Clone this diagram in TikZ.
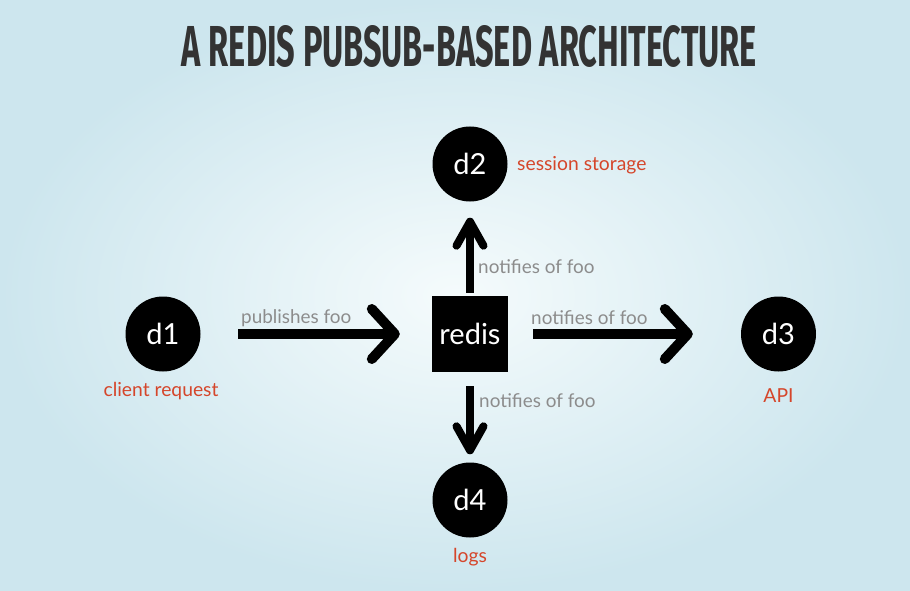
\documentclass[tikz,border=0pt]{standalone}
\usepackage{fontspec}
\usepackage{graphicx}
\setmainfont{Lato}
\newfontfamily\titlefont{Fira Sans}
\usetikzlibrary{arrows.meta}
\definecolor{bgin}{HTML}{F5FBFC}
\definecolor{bgout}{HTML}{CDE6EE}
\definecolor{labred}{HTML}{D5462B}
\definecolor{notegray}{HTML}{8C8C8C}
\definecolor{titlegray}{HTML}{333333}
\begin{document}
\begin{tikzpicture}[x=1pt,y=-1pt,
  dot/.style={circle, fill=black, text=white, minimum size=75pt, inner sep=0pt, font=\fontsize{29}{32}\selectfont},
  box/.style={rectangle, fill=black, text=white, minimum size=76pt, inner sep=0pt, font=\fontsize{29}{32}\selectfont},
  tag/.style={text=labred, font=\fontsize{19.3}{22}\selectfont, inner sep=0pt, anchor=base},
  note/.style={text=notegray, font=\fontsize{18.9}{22}\selectfont, inner sep=0pt, anchor=base west},
  harrow/.style={line width=10pt, -{Straight Barb[length=23pt,width=50pt,round]}},
  varrow/.style={line width=8pt, -{Straight Barb[length=24pt,width=27pt,round]}}
]
\useasboundingbox (0,0) rectangle (910,591);
\shade[inner color=bgin, outer color=bgout] (0,0) rectangle (910,591);

\node[font=\titlefont\bfseries, text=titlegray, inner sep=0pt] (title) at (469.5,46)
  {\resizebox{575pt}{41pt}{A REDIS PUBSUB-BASED ARCHITECTURE}};

\node[dot] (d1) at (163,334) {d1};
\node[box] (redis) at (470,334) {redis};
\node[dot] (d2) at (470,164) {d2};
\node[dot] (d3) at (778.5,334) {d3};
\node[dot] (d4) at (470,500) {d4};

\draw[harrow, shorten <=37.5pt, shorten >=32pt] (d1) -- (redis);
\draw[harrow, shorten <=25pt, shorten >=48pt] (redis) -- (d3);
\draw[varrow, shorten <=3pt, shorten >=16pt] (redis) -- (d2);
\draw[varrow, shorten <=14pt, shorten >=8pt] (redis) -- (d4);

\node[note] (pub) at (241,323) {publishes foo};
\node[note] (nup) at (478,273) {notifies of foo};
\node[note] (nright) at (531,324) {notifies of foo};
\node[note] (ndown) at (479,407) {notifies of foo};

\node[tag] (t1) at (161,396) {client request};
\node[tag, anchor=base west] (t2) at (517,171) {session storage};
\node[tag] (t3) at (778.5,402) {API};
\node[tag] (t4) at (470,562) {logs};
\end{tikzpicture}
\end{document}
